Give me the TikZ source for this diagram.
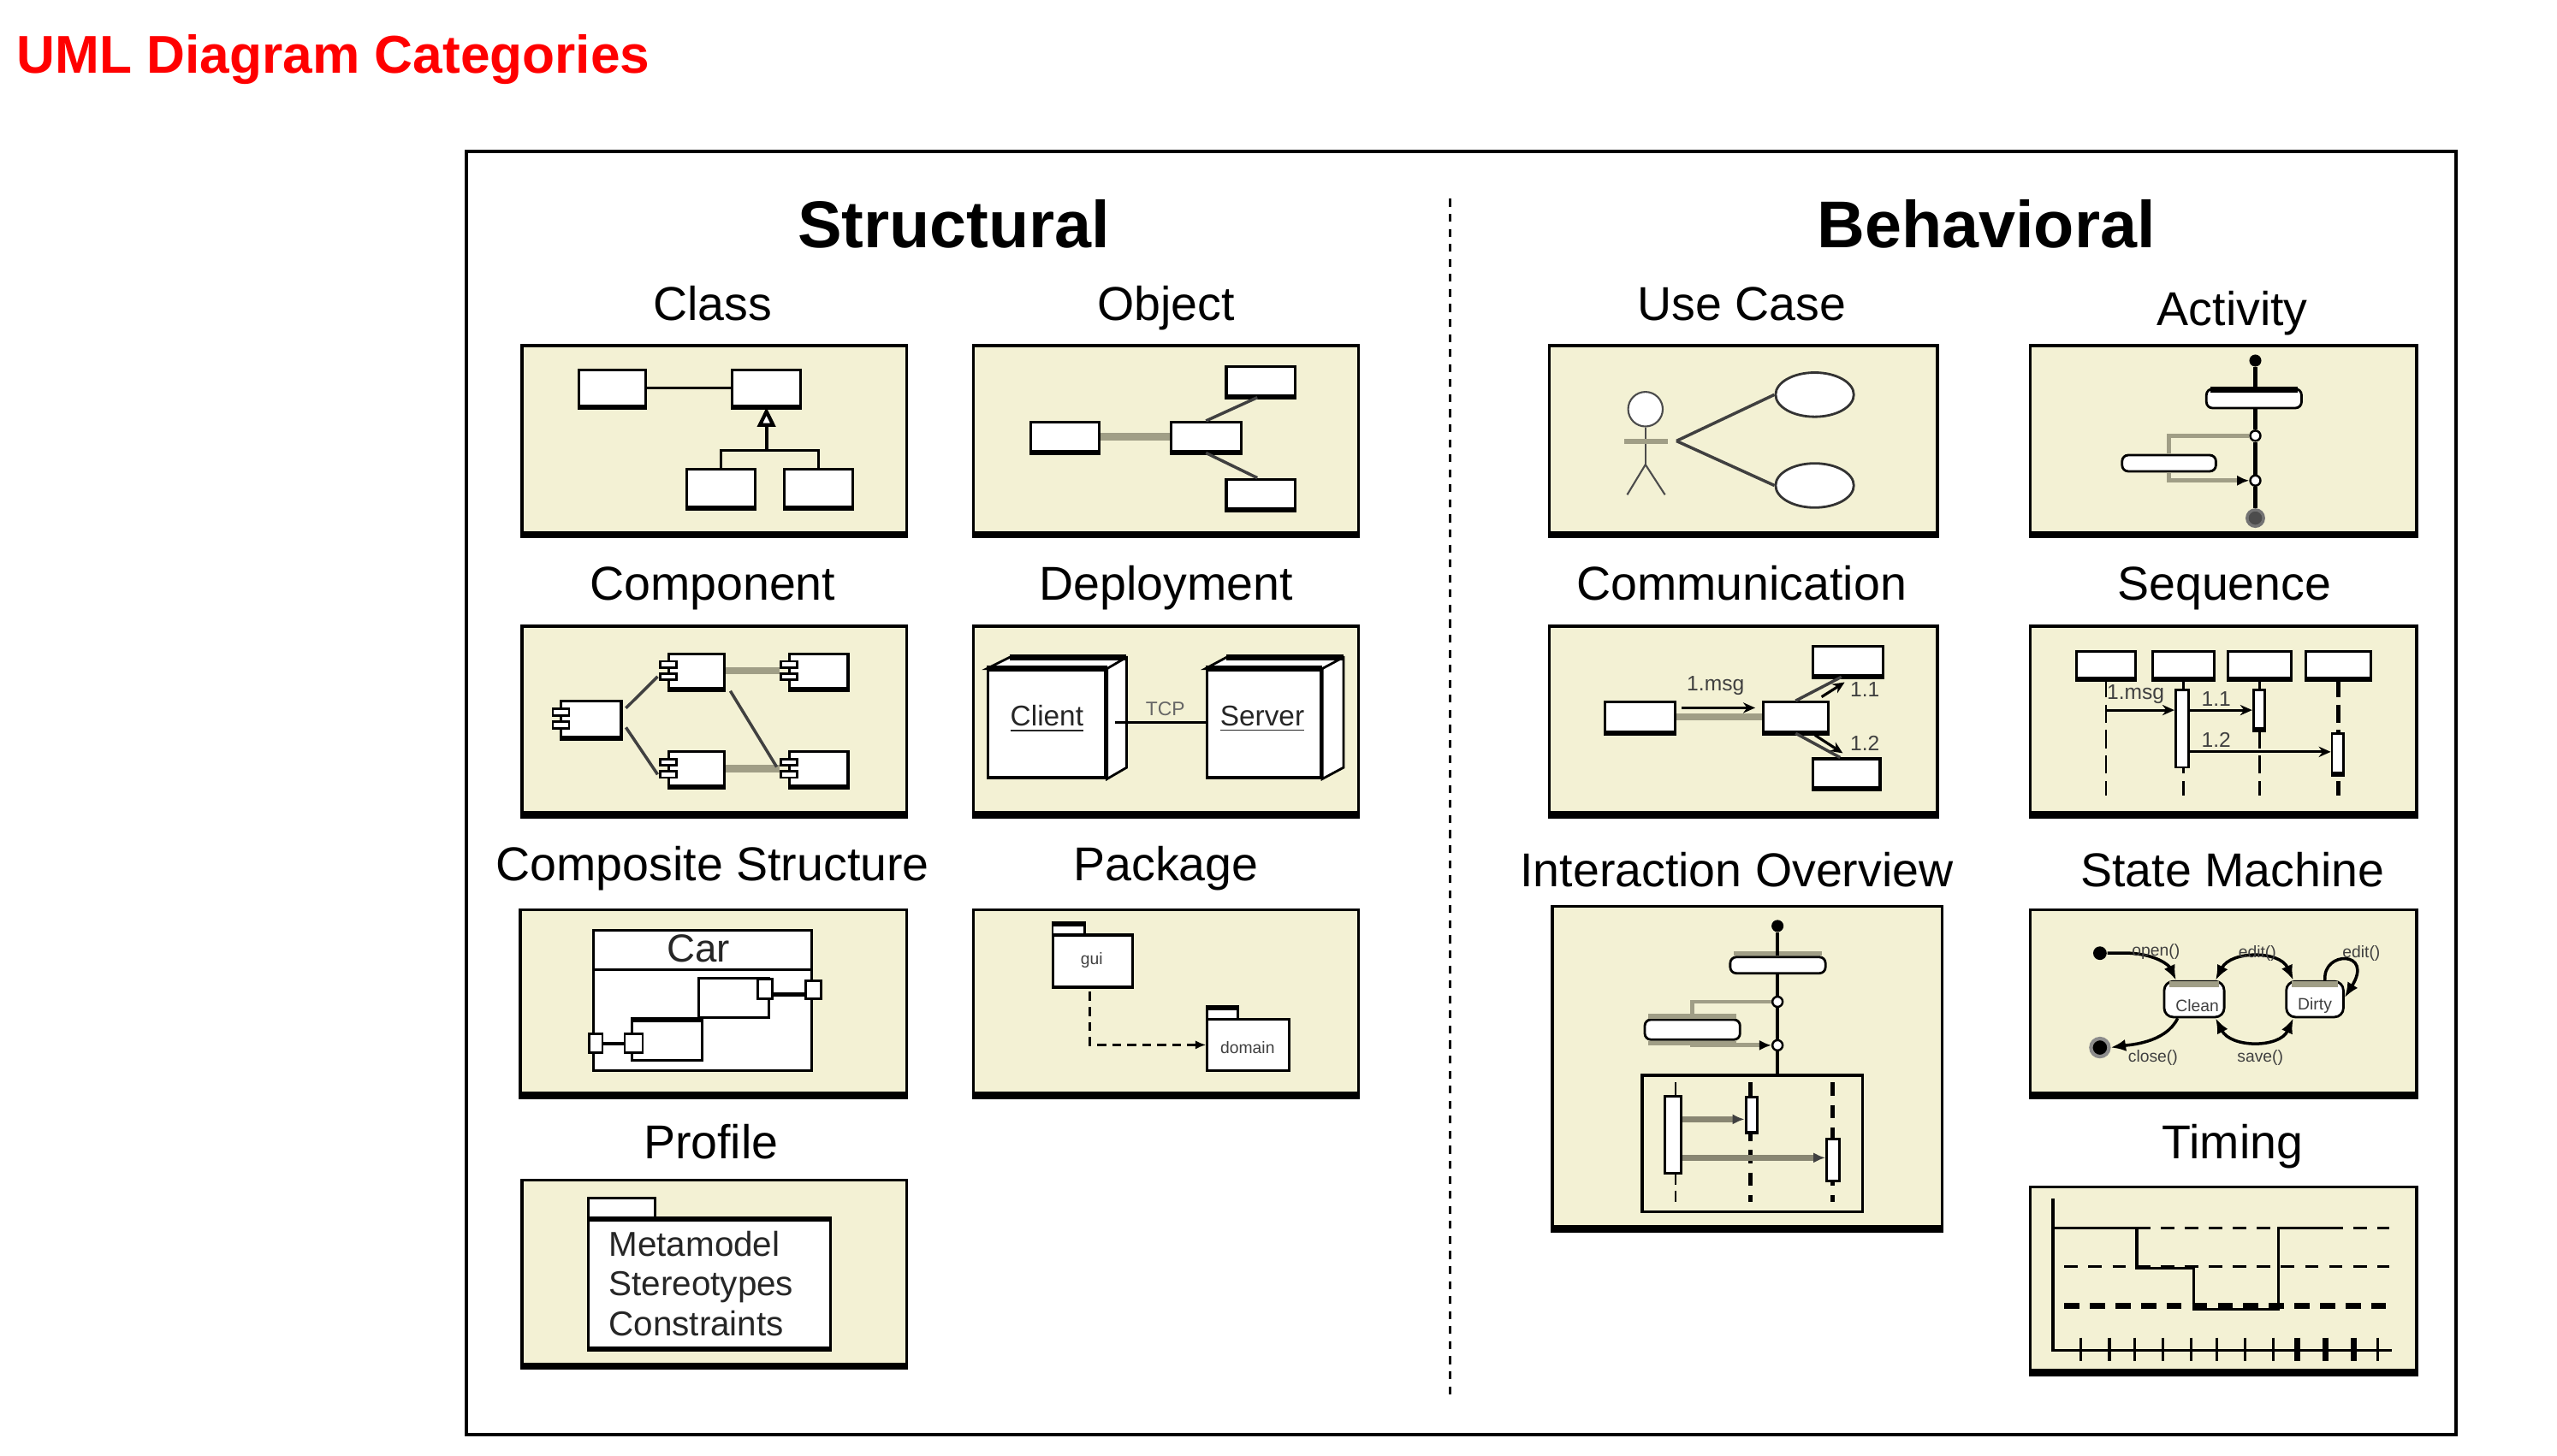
\documentclass[tikz,border=0pt]{standalone}
\usepackage{fontspec}
\setmainfont{Liberation Sans}
\usetikzlibrary{fit,calc,arrows.meta,shapes.geometric}
\definecolor{beige}{RGB}{243,241,212}
\definecolor{lgray}{RGB}{160,158,134}
\newcommand\mkdiag[5]{%
  \node[diag, fit={(#2,#3)(#4,#5)}] (#1) {};
  \draw[line width=2.4pt] (#1.south west) -- (#1.south east);}
\newcommand\mkbox[5]{%
  \node[wb, fit={(#2,#3)(#4,#5)}] (#1) {};
  \draw[line width=1.6pt] (#1.south west) -- (#1.south east);}
\newcommand\mkport[5]{\node[wb, line width=0.8pt, fit={(#2,#3)(#4,#5)}] (#1) {};}
\newcommand\mkcomp[5]{%
  \mkbox{#1}{#2}{#3}{#4}{#5}
  \node[wb, line width=0.8pt, fit={({#2-5},{#3+0.22*(#5-#3)})({#2+5},{#3+0.40*(#5-#3)})}] (#1a) {};
  \node[wb, line width=0.8pt, fit={({#2-5},{#3+0.58*(#5-#3)})({#2+5},{#3+0.76*(#5-#3)})}] (#1b) {};}
\tikzset{
  diag/.style={draw, fill=beige, line width=1pt, inner sep=0pt},
  wb/.style={draw, fill=white, line width=0.9pt, inner sep=0pt},
  ln/.style={line width=0.9pt},
  dl/.style={line width=1pt, draw=black!75},
  glink/.style={line width=2.4pt, draw=lgray},
  sub/.style={anchor=base, inner sep=0pt, font=\fontsize{15.8}{18}\selectfont},
  head/.style={anchor=base, inner sep=0pt, font=\fontsize{22}{26}\selectfont\bfseries},
  small/.style={inner sep=0pt, font=\fontsize{7}{8}\selectfont, text=black!75},
  tiny/.style={inner sep=0pt, font=\fontsize{5.5}{6}\selectfont, text=black!75},
  dot/.style={circle, fill=#1, inner sep=0pt},
  choice/.style={circle, draw, fill=white, line width=0.7pt, inner sep=0pt, minimum size=3.4pt},
  msg/.style={line width=0.9pt, -{Stealth[length=4pt,width=3.5pt]}},
  axisl/.style={line width=1.3pt},
  tr/.style={line width=1pt, -{Latex[length=5pt,width=4pt]}},
}
\begin{document}
\begin{tikzpicture}[x=0.019056cm,y=-0.019056cm]
\useasboundingbox (0,0) rectangle (1568,893);
% title and frame
\node[anchor=base west, inner sep=0pt, text=red, font=\fontsize{17.7}{21}\selectfont\bfseries] (title) at (10,45) {UML Diagram Categories};
\node[draw, line width=1pt, inner sep=0pt, fit={(286,93)(1506,880)}] (frame) {};
\node[head] (hstruct) at (585,152) {Structural};
\node[head] (hbeh) at (1218,152) {Behavioral};
\coordinate (dtop) at (889,122);
\coordinate (dbot) at (889,856);
\draw[line width=0.9pt, dash pattern=on 2.6pt off 2.4pt] (dtop) -- (dbot);
% subtitles
\node[sub] (tclass) at (437,196.5) {Class};
\node[sub] (tobj) at (715,196.5) {Object};
\node[sub] (tuc) at (1068,196.5) {Use Case};
\node[sub] (tact) at (1369,199.5) {Activity};
\node[sub] (tcomp) at (437,368) {Component};
\node[sub] (tdep) at (715,368) {Deployment};
\node[sub] (tcomm) at (1068,368) {Communication};
\node[sub] (tseq) at (1364,368) {Sequence};
\node[sub] (tcs) at (437,540) {Composite Structure};
\node[sub] (tpkg) at (715,540) {Package};
\node[sub] (tio) at (1065,544) {Interaction Overview};
\node[sub] (tsm) at (1369,544) {State Machine};
\node[sub] (tprof) at (436,711) {Profile};
\node[sub] (ttim) at (1369,711) {Timing};

% ---------------- Class
\mkdiag{bclass}{320}{212}{556}{327}
\mkbox{ca}{355}{227}{396}{249}
\mkbox{cb}{449}{227}{491}{249}
\mkbox{cc}{421}{288}{463}{311}
\mkbox{cd}{481}{288}{523}{311}
\draw[ln] (ca) -- (cb);
\coordinate (cbus) at (470,276.5);
\draw[ln] (cc.north) |- (cbus) -| (cd.north);
\draw[line width=1.2pt, -{Triangle[open, length=6.5pt, width=6pt, fill=white]}] (cbus) -- (cb.south);

% ---------------- Object
\mkdiag{bobj}{597}{212}{833}{327}
\mkbox{oa}{752}{225}{794}{243}
\mkbox{ob}{632}{259}{674}{277}
\mkbox{oc}{718}{259}{761}{277}
\mkbox{od}{752}{294}{794}{312}
\draw[glink] (ob) -- (oc);
\draw[dl] (oc.north) -- ($(oa.south)+(-2,0)$);
\draw[dl] (oc.south) -- ($(od.north)+(-2,0)$);

% ---------------- Component
\mkdiag{bcomp}{320}{384}{556}{499}
\mkcomp{ka}{344}{430}{381}{452}
\mkcomp{kb}{410}{401}{444}{422}
\mkcomp{kc}{484}{401}{520}{422}
\mkcomp{kd}{410}{461}{444}{482}
\mkcomp{ke}{484}{461}{520}{482}
\draw[glink] (kb.east) -- (kc.west -| kcb.west);
\draw[glink] (kd.east) -- (kd.east -| keb.west);
\draw[dl] ($(ka.north east)!0.22!(ka.south east)+(2,0)$) -- ($(kbb.west)+(-1,0)$);
\draw[dl] ($(ka.north east)!0.72!(ka.south east)+(2,0)$) -- ($(kdb.west)+(-1,0)$);
\draw[dl] ($(kb.south east)+(3,1)$) -- ($(keb.north west)+(-2,-2)$);

% ---------------- Deployment
\mkdiag{bdep}{597}{384}{833}{499}
\node[wb, line width=0.9pt, fit={(606,411)(678,477)}] (cli) {};
\draw[fill=white, line width=0.8pt] (cli.north west) -- ++(14,-7) -| ($(cli.south east)+(12,-7)$) -- (cli.south east) -- (cli.north east) -- cycle;
\draw[line width=0.8pt] (cli.north east) -- ++(12,-7);
\draw[line width=2pt] ($(cli.north west)+(14,-7)$) -- ($(cli.north east)+(12,-7)$);
\draw[line width=2pt] (cli.north west) -- (cli.north east);
\node[wb, line width=0.9pt, fit={(740,411)(810,477)}] (srv) {};
\draw[fill=white, line width=0.8pt] (srv.north west) -- ++(13,-7) -| ($(srv.south east)+(13,-7)$) -- (srv.south east) -- (srv.north east) -- cycle;
\draw[line width=0.8pt] (srv.north east) -- ++(13,-7);
\draw[line width=2pt] ($(srv.north west)+(13,-7)$) -- ($(srv.north east)+(13,-7)$);
\draw[line width=2pt] (srv.north west) -- (srv.north east);
\node[inner sep=0pt, font=\fontsize{9.5}{11}\selectfont, text=black!85] (clit) at (642,441) {\underline{Client}};
\node[inner sep=0pt, font=\fontsize{9.5}{11}\selectfont, text=black!85] (srvt) at (774,441) {\underline{Server}};
\coordinate (tcpa) at (684,443.3);
\draw[line width=0.9pt] (tcpa) -- (tcpa -| srv.west);
\node[inner sep=0pt, font=\fontsize{6.5}{7}\selectfont, text=black!60] (tcp) at (714.6,435) {TCP};

% ---------------- Composite structure
\mkdiag{bcs}{319}{558}{556}{671}
\node[wb, line width=0.8pt, fit={(364,570.5)(497.8,656.6)}] (car) {};
\draw[line width=0.8pt] ($(car.north west)+(0,25)$) -- ($(car.north east)+(0,25)$);
\node[inner sep=0pt, font=\fontsize{13}{15}\selectfont, text=black!85] (cart) at (428.3,582) {Car};
\node[wb, line width=0.8pt, fit={(428.3,600)(471.3,624.1)}] (cp1) {};
\mkport{cq1}{464.6}{600.4}{473.8}{612.5}
\mkport{cq2}{493.9}{601.6}{503.4}{612.5}
\draw[line width=1.6pt] (cq1.east |- 0,610) -- (cq2.west |- 0,610);
\node[wb, line width=0.8pt, fit={(387.7,626.3)(430.7,650.6)}] (cp2) {};
\draw[line width=1.8pt] (cp2.north west) -- (cp2.north east);
\mkport{cq3}{383.1}{634.3}{394.1}{645.9}
\mkport{cq4}{361.3}{634.3}{369.4}{645.9}
\draw[line width=1.2pt] (cq4) -- (cq3);

% ---------------- Package
\mkdiag{bpkg}{597}{558}{833}{671}
\node[wb, line width=0.8pt, fit={(645.5,567.5)(665,573.6)}] (pgt) {};
\draw[line width=1.8pt] (pgt.north west) -- (pgt.north east);
\node[wb, line width=0.9pt, fit={(645.5,573.6)(694.3,605.6)}] (pg) {};
\node[tiny] (pgl) at (669.5,589) {gui};
\node[wb, line width=0.8pt, fit={(740.3,618.9)(759,625.1)}] (pdt) {};
\draw[line width=1.8pt] (pdt.north west) -- (pdt.north east);
\node[wb, line width=0.9pt, fit={(740.3,625.1)(790.5,656.8)}] (pd) {};
\node[tiny] (pdl) at (765,642.4) {domain};
\draw[line width=0.9pt, dash pattern=on 3pt off 2pt, -{Latex[length=3.5pt,width=3pt]}] ($(pg.south)+(-1.5,2)$) |- (pd.west);

% ---------------- Profile
\mkdiag{bprof}{320}{724}{556}{837}
\node[wb, line width=0.9pt, fit={(360.7,734.9)(401.5,748.6)}] (ptab) {};
\node[wb, line width=0.9pt, fit={(360.7,748.6)(509.1,826.6)}] (pbody) {};
\draw[line width=1.8pt] (pbody.north west) -- (pbody.north east);
\draw[line width=1.8pt] (pbody.south west) -- (pbody.south east);
\node[anchor=base west, inner sep=0pt, font=\fontsize{11.5}{13}\selectfont, text=black!85] (pr1) at (373,770.6) {Metamodel};
\node[anchor=base west, inner sep=0pt, font=\fontsize{11.5}{13}\selectfont, text=black!85] (pr2) at (373,795) {Stereotypes};
\node[anchor=base west, inner sep=0pt, font=\fontsize{11.5}{13}\selectfont, text=black!85] (pr3) at (373,819.6) {Constraints};

% ---------------- Use Case
\mkdiag{buc}{950}{212}{1188}{327}
\node[draw=black!70, fill=white, ellipse, line width=0.6pt, minimum width=11.5pt, minimum height=11.5pt, inner sep=0pt] (hd) at (1009,251) {};
\coordinate (hip) at (1009,285);
\draw[line width=0.6pt, black!70] (hd.south) -- (hip);
\draw[line width=1.6pt, lgray] (996,270.8) -- (1022.6,270.8);
\draw[line width=0.6pt, black!70] (997.8,303.5) -- (hip) -- (1021,303.5);
\node[draw=black!80, fill=white, ellipse, line width=0.8pt, minimum width=26pt, minimum height=14.7pt, inner sep=0pt] (u1) at (1112.8,242.1) {};
\node[draw=black!80, fill=white, ellipse, line width=0.8pt, minimum width=26pt, minimum height=14.7pt, inner sep=0pt] (u2) at (1112.8,297.8) {};
\coordinate (hand) at (1028,270.5);
\draw[dl] (hand) -- (u1.west);
\draw[dl] (hand) -- (u2.west);

% ---------------- Activity
\mkdiag{bact}{1245}{212}{1482}{327}
\node[dot=black, minimum size=4pt] (ai) at (1383,221.2) {};
\node[wb, rounded corners=2pt, line width=0.8pt, fit={(1353,238.6)(1411.3,250.3)}] (aa) {};
\draw[line width=2pt] ($(aa.north west)+(3,1)$) -- ($(aa.north east)+(-3,1)$);
\node[choice] (ad) at (1383,267.3) {};
\node[choice] (am) at (1383,294.8) {};
\node[wb, rounded corners=2pt, line width=0.8pt, fit={(1301.3,279.2)(1358.8,289.1)}] (ab) {};
\node[circle, draw=black!55, fill=black!70, line width=1pt, inner sep=0pt, minimum size=5.5pt] (af) at (1383,317.8) {};
\draw[axisl] (ai) -- (aa.north -| ai);
\draw[axisl] (aa.south -| ai) -- (ad);
\draw[axisl] (ad) -- (am);
\draw[axisl] (am) -- (af);
\draw[line width=1.5pt, lgray] (ad.west) -| (ab.north);
\draw[line width=1.5pt, lgray, -{Latex[length=4pt,width=3.5pt,color=black]}] (ab.south) |- (am.west);

% ---------------- Communication
\mkdiag{bcom}{950}{384}{1188}{499}
\mkbox{ma}{984.3}{430.7}{1027.1}{449}
\mkbox{mb}{1081.1}{430.7}{1121.1}{449}
\mkbox{mc}{1111.8}{396.3}{1154.6}{414.4}
\mkbox{md}{1111.8}{465.5}{1152.9}{483.1}
\draw[glink] (ma) -- (mb);
\draw[dl] (mb.north) -- ($(mc.south)+(-4,0)$);
\draw[dl] (mb.south) -- ($(md.north)+(-4,0)$);
\coordinate (c1a) at (1031.3,434.2);
\coordinate (c1b) at (1076.3,434.2);
\draw[msg] (c1a) -- (c1b);
\coordinate (c2a) at (1117,427.5);
\coordinate (c2b) at (1131.2,418.5);
\draw[msg] (c2a) -- (c2b);
\coordinate (c3a) at (1113,451);
\coordinate (c3b) at (1130,462);
\draw[msg] (c3a) -- (c3b);
\node[small] (l1msg) at (1052,420.5) {1.msg};
\node[small] (l11) at (1143.6,423.1) {1.1};
\node[small] (l12) at (1143.6,456) {1.2};

% ---------------- Sequence
\mkdiag{bseq}{1245}{384}{1482}{499}
\mkbox{s1}{1273.2}{399.6}{1309.6}{415.7}
\mkbox{s2}{1320.1}{399.6}{1357.9}{415.7}
\mkbox{s3}{1366.2}{399.6}{1405}{415.7}
\mkbox{s4}{1414}{399.6}{1454}{415.7}
\foreach \s in {s1,s2,s3}
  \draw[line width=0.7pt, dash pattern=on 6pt off 2.5pt] (\s.south) -- (\s.south |- 0,488);
\draw[line width=1.4pt, dash pattern=on 6pt off 2.5pt] (s4.south) -- (s4.south |- 0,488);
\node[wb, line width=0.8pt, fit={(1334.1,423.1)(1342,470.7)}] (b2) {};
\node[wb, line width=0.8pt, fit={(1381.8,423.1)(1388.8,446.8)}] (b3) {};
\draw[line width=1.8pt] (b3.south west) -- (b3.south east);
\node[wb, line width=0.8pt, fit={(1430,449.9)(1437.1,474)}] (b4) {};
\draw[line width=1.8pt] (b4.south west) -- (b4.south east);
\coordinate (q1) at (s1.south |- 0,435.6);
\draw[msg] (q1) -- (q1 -| b2.west);
\draw[msg] (q1 -| b2.east) -- (q1 -| b3.west);
\coordinate (q2) at (b2.east |- 0,461.2);
\draw[msg] (q2) -- (q2 -| b4.west);
\node[small] (sl1) at (1309.6,426) {1.msg};
\node[small] (sl2) at (1359,428.6) {1.1};
\node[small] (sl3) at (1359,453.7) {1.2};

% ---------------- Interaction overview
\mkdiag{bio}{952}{556}{1191}{753}
\node[dot=black, minimum size=4pt] (ii) at (1090,568) {};
\node[wb, rounded corners=2pt, line width=0.8pt, fit={(1061,587.1)(1119.4,597)}] (io1) {};
\draw[line width=1.6pt, lgray] ($(io1.north west)+(3,-1.5)$) -- ($(io1.north east)+(-3,-1.5)$);
\node[choice] (iod) at (1090,614.5) {};
\node[choice] (iom) at (1090,641.2) {};
\node[wb, rounded corners=2pt, line width=0.8pt, fit={(1008.6,625.5)(1067,637.7)}] (io2) {};
\draw[line width=1.6pt, lgray] ($(io2.north west)+(3,-1.5)$) -- ($(io2.north east)+(-3,-1.5)$);
\draw[line width=1.6pt, lgray] ($(io2.south west)+(3,1.5)$) -- ($(io2.south east)+(-3,1.5)$);
\node[draw, line width=1pt, inner sep=0pt, fit={(1006.9,659.5)(1142.1,743.3)}] (iof) {};
\draw[axisl] (ii) -- (io1.north -| ii);
\draw[axisl] (io1.south -| ii) -- (iod);
\draw[axisl] (iod) -- (iom);
\draw[axisl] (iom) -- (iom |- iof.north);
\draw[line width=1.4pt, lgray] (iod.west) -| (io2.north);
\draw[line width=1.4pt, lgray, -{Latex[length=4pt,width=3.5pt,color=black]}] (io2.south) |- (iom.west);
\coordinate (il1) at (1027.4,663.9);
\coordinate (il2) at (1073.4,663.9);
\coordinate (il3) at (1123.7,663.9);
\draw[line width=0.6pt, dash pattern=on 7pt off 2pt] (il1) -- (il1 |- 0,737.2);
\draw[line width=1.5pt, dash pattern=on 4.5pt off 3pt] (il2) -- (il2 |- 0,737.2);
\draw[line width=1.5pt, dash pattern=on 4.5pt off 3pt] (il3) -- (il3 |- 0,737.2);
\node[wb, line width=0.9pt, fit={(1021,672.4)(1030.7,719.8)}] (ib1) {};
\node[wb, line width=0.9pt, fit={(1070.6,672.8)(1077.7,694.8)}] (ib2) {};
\node[wb, line width=0.9pt, fit={(1120.2,698.8)(1128,724.5)}] (ib3) {};
\coordinate (iq1) at (ib1.east |- 0,686.6);
\coordinate (iq2) at (ib1.east |- 0,710.2);
\draw[line width=1.8pt, lgray!85!black, -{Latex[length=4pt,width=3.5pt,color=black!75]}] (iq1) -- (iq1 -| ib2.west);
\draw[line width=1.8pt, lgray!85!black, -{Latex[length=4pt,width=3.5pt,color=black!75]}] (iq2) -- (iq2 -| ib3.west);

% ---------------- State machine
\mkdiag{bsm}{1245}{558}{1482}{671}
\node[dot=black, minimum size=4.5pt] (si) at (1287.7,584.7) {};
\node[wb, rounded corners=3pt, line width=0.8pt, fit={(1327.1,602)(1363.9,623.9)}] (sc) {};
\draw[line width=2.2pt, lgray] ($(sc.north west)+(4,2.5)$) -- ($(sc.north east)+(-4,2.5)$);
\node[wb, rounded corners=3pt, line width=0.8pt, fit={(1402,602)(1437,623.9)}] (sd) {};
\draw[line width=2.2pt, lgray] ($(sd.north west)+(4,2.5)$) -- ($(sd.north east)+(-4,2.5)$);
\node[tiny] (scl) at (1347.4,617) {Clean};
\node[tiny] (sdl) at (1419.5,617) {Dirty};
\node[circle, draw=black!45, fill=black, line width=1.2pt, inner sep=0pt, minimum size=6pt] (sf) at (1287.7,642.6) {};
\draw[tr] (si.east) -- (1306,584.7) .. controls (1322,585.5) and (1330,592) .. ($(sc.north west)+(8,0)$);
\draw[line width=1pt, {Latex[length=5pt,width=4pt]}-{Latex[length=5pt,width=4pt]}] ($(sc.north east)+(-6,0)$) .. controls (1368,583) and (1398,583) .. ($(sd.north west)+(5,0)$);
\draw[line width=1pt, {Latex[length=5pt,width=4pt]}-{Latex[length=5pt,width=4pt]}] ($(sd.south west)+(5,0)$) .. controls (1398,643) and (1368,643) .. ($(sc.south east)+(-6,0)$);
\draw[tr] ($(sc.south west)+(9,0)$) .. controls (1328,640) and (1305,641) .. (sf.east);
\draw[tr] ($(sd.north east)+(-12,0)$) .. controls (1424,583) and (1456,583) .. ($(sd.east)+(0,-1)$);
\node[tiny] (lopen) at (1322,584) {open()};
\node[tiny] (ledit) at (1384.2,584.7) {edit()};
\node[tiny] (ledit2) at (1448,584.7) {edit()};
\node[tiny] (lclose) at (1320.2,648.8) {close()};
\node[tiny] (lsave) at (1386,648.8) {save()};

% ---------------- Timing
\mkdiag{btim}{1245}{728}{1482}{841}
\coordinate (tt) at (1258.9,735.3);
\coordinate (to) at (1258.9,828.3);
\coordinate (te) at (1466.9,828.3);
\draw[line width=0.9pt, dash pattern=on 4.5pt off 3.5pt] (1265.9,753.2) -- (1465.1,753.2);
\draw[line width=0.9pt, dash pattern=on 4.5pt off 3.5pt] (1265.9,776.7) -- (1465.1,776.7);
\draw[line width=2.2pt, dash pattern=on 5pt off 3.5pt] (1265.9,801) -- (1465.1,801);
\draw[line width=1pt] (tt) -- (to) -- (te);
\foreach \x in {1276.0,1293.5,1309.1,1326.4,1343.7,1359.2,1376.6,1393.9,1458.2}
  \draw[line width=0.9pt] (\x,820.5) -- (\x,835);
\foreach \x in {1408.5,1425.9,1443.2}
  \draw[line width=2pt] (\x,820.5) -- (\x,835);
\draw[line width=1pt] (tt |- 0,753.2) -- (1310.3,753.2) |- (1345.2,777.9) |- (1397.1,803.1) |- (1436.7,753.2);
\end{tikzpicture}
\end{document}
